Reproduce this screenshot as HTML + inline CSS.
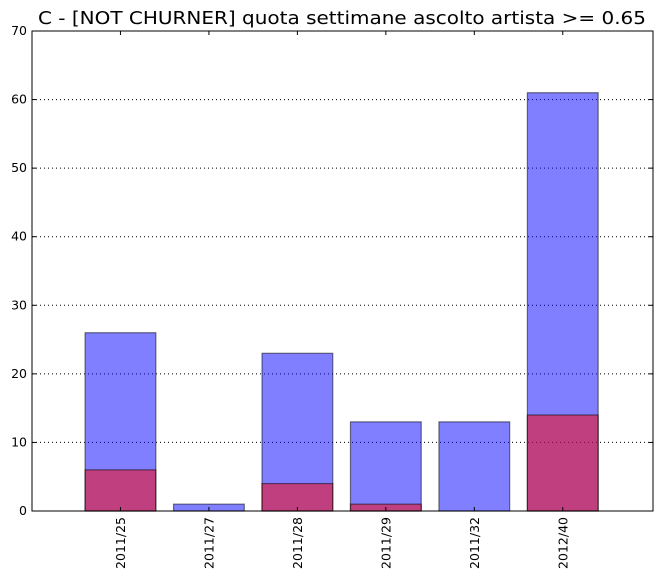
<!DOCTYPE html>
<html><head><meta charset="utf-8"><style>
body{margin:0;background:#fff;}
svg text{font-family:"DejaVu Sans","Liberation Sans",sans-serif;}
</style></head><body>
<svg id="chart" width="661" height="579" xmlns="http://www.w3.org/2000/svg">
<rect width="661" height="579" fill="#fff"/>
<text x="342" y="24" font-size="18" text-anchor="middle" textLength="608" lengthAdjust="spacingAndGlyphs">C - [NOT CHURNER] quota settimane ascolto artista &gt;= 0.65</text>
<g id="grid"></g><g id="bars"></g><g id="axes"></g>
<rect x="32" y="31" width="621" height="480" fill="none" stroke="#000" stroke-width="1"/>
</svg>
<script>
const categories=["2011/25","2011/27","2011/28","2011/29","2011/32","2012/40"];
const totalValues=[26,1,23,13,13,61];
const churnValues=[6,0,4,1,0,14];
const yTicks=[0,10,20,30,40,50,60,70];
const L=32,R=653,T=31,B=511;
const xs=i=>L+(i+1)/(7.02)*(R-L);
const ys=v=>B-v/70*(B-T);
const bw=0.8*(R-L)/7.02;
const NS="http://www.w3.org/2000/svg";
function mk(tag,attrs,parent){const e=document.createElementNS(NS,tag);for(const k in attrs)e.setAttribute(k,attrs[k]);document.getElementById(parent).appendChild(e);return e;}
yTicks.forEach(t=>{
  const y=ys(t);
  if(t>0&&t<70){const g=mk('line',{x1:L,x2:R,y1:y,y2:y,stroke:'#000','stroke-dasharray':'1,3','stroke-width':1},'grid');
  
  }
  const tk=mk('line',{x1:L,x2:L+4,y1:y,y2:y,stroke:'#000'},'axes');
  
  
  const tk2=mk('line',{x1:R-4,x2:R,y1:y,y2:y,stroke:'#000'},'axes');
  
  
  const lb=mk('text',{x:L-5,y:y+4,'font-size':12.5,'text-anchor':'end'},'axes');
  lb.textContent=t;
  
  
});
categories.forEach((c,i)=>{
  const cx=xs(i);
  const b=mk('rect',{x:cx-bw/2,y:ys(totalValues[i]),width:bw,height:ys(0)-ys(totalValues[i]),fill:'rgba(0,0,255,0.5)',stroke:'rgba(0,0,0,0.5)','stroke-width':1.2},'bars');
  
  
  if(churnValues[i]>0){
  const r=mk('rect',{x:cx-bw/2,y:ys(churnValues[i]),width:bw,height:ys(0)-ys(churnValues[i]),fill:'rgba(255,0,0,0.5)',stroke:'rgba(0,0,0,0.5)','stroke-width':1.2},'bars');
  
  }
  const tk=mk('line',{x1:cx,x2:cx,y1:B,y2:B-4,stroke:'#000'},'axes');
  
  
  const tk2=mk('line',{x1:cx,x2:cx,y1:T,y2:T+4,stroke:'#000'},'axes');
  
  
  const lb=mk('text',{x:0,y:0,'font-size':12.5,'text-anchor':'end',transform:`translate(${cx+4.5},${B+6}) rotate(-90)`},'axes');
  lb.textContent=c;
  
  
});
</script>
</body></html>
